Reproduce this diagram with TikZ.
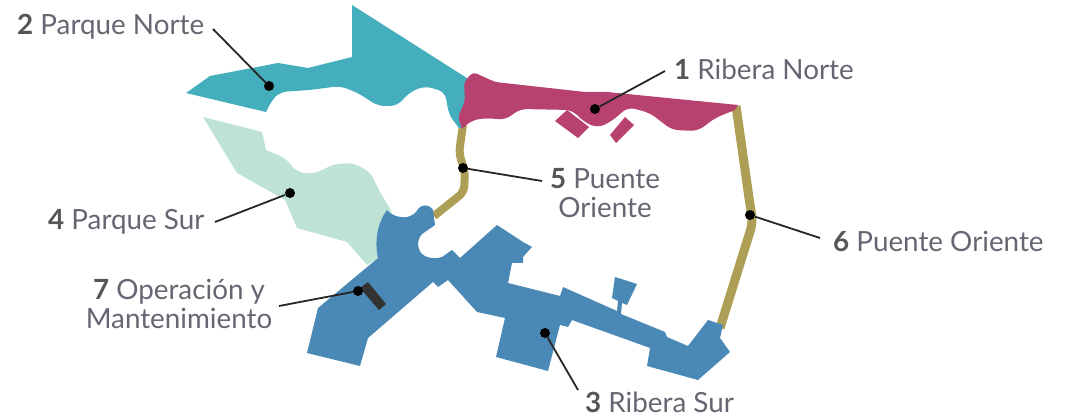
\documentclass[tikz,border=0pt]{standalone}
\usepackage{fontspec}
\setmainfont{Lato}
\definecolor{cteal}{HTML}{45AEBC}
\definecolor{cpink}{HTML}{B8426F}
\definecolor{cgold}{HTML}{AD9F55}
\definecolor{cmint}{HTML}{BEE3D5}
\definecolor{cblue}{HTML}{4A89B6}
\definecolor{cdark}{HTML}{333333}
\definecolor{ctext}{HTML}{666672}
\definecolor{cnum}{HTML}{55555A}
\newcommand{\nm}[1]{{\bfseries\color{cnum}#1}}
\tikzset{
  zone/.style={line width=0pt},
  bridge/.style={draw=cgold,line width=8pt,line join=round},
  dotmark/.style={circle,fill=black,inner sep=0pt,minimum size=10pt},
  leader/.style={draw=black!85,line width=1.8pt},
  lab/.style={text=ctext,font=\fontsize{27.8}{29}\selectfont,inner sep=0pt,align=center}
}
\begin{document}
\begin{tikzpicture}[x=1pt,y=-1pt]
\useasboundingbox (0,0) rectangle (1074,419);
% bridges
\draw[bridge,rounded corners=6pt] (463,125) -- (459,153) -- (465,172) -- (464,192) -- (434,216);
\draw[bridge,line width=9pt,rounded corners=8pt] (736,106) -- (750,205) -- (753,222) -- (720,328);
% mint
\fill[cmint,zone,rounded corners=5pt] (203,117) [sharp corners] -- (262,132) -- (266,150) [rounded corners=6pt] -- (285,158) -- (297,172) -- (313,174) -- (335,164) -- (353,163) -- (370,172) -- (380,192) -- (392,212) -- (395,240) [sharp corners] -- (375,260) -- (367,265) -- (347,242) -- (297,228) -- (285,200) -- (237,173) -- cycle;
% teal
\fill[cteal,zone] (186,93) -- (210,76) -- (278,63) -- (308,68) -- (352,57) -- (352,5) -- (470,80) -- (468,110) -- (462,128) -- (459,128) [rounded corners=7pt] -- (449,115) -- (445,92) -- (425,86) -- (410,92) -- (397,106) -- (378,106) -- (358,93) -- (340,86) -- (310,90) -- (280,92) -- (272,100) [sharp corners] -- (266,112) -- cycle;
% pink
\fill[cpink,zone,rounded corners=4pt] (462,129) -- (458,117) -- (465,101) -- (464,82) -- (473,72) -- (495,82) -- (585,92) [sharp corners] -- (607,92) -- (738,105) -- (735,110) [rounded corners=7pt] -- (715,118) -- (698,131) -- (672,130) -- (650,113) -- (628,107) -- (612,121) -- (598,128) -- (584,122) -- (572,110) -- (520,109) -- (505,120) -- (488,118) -- (472,120) [sharp corners] -- cycle;
\fill[cpink,zone] (555,121) -- (567,110) -- (589,127) -- (578,138) -- cycle;
\fill[cpink,zone] (610,135) -- (625,117) -- (634,125) -- (616,143) -- cycle;
% blue
\fill[cblue,zone] (387,210) .. controls (392,216) and (400,218) .. (407,217) .. controls (412,216) and (416,213) .. (418,209) .. controls (421,204) and (430,204) .. (433,210)
 -- (435,225) -- (425,232) .. controls (417,236) and (416,248) .. (422,254) .. controls (428,259) and (437,259) .. (442,257)
 -- (452,250) -- (460,258) -- (497,225) -- (523,242) -- (532,247) -- (523,257) -- (523,263) -- (512,263) -- (508,283) -- (560,296) -- (563,287) -- (617,311) -- (618,301) -- (612,298) -- (615,277) -- (637,284) -- (627,305) -- (622,303) -- (621,314) -- (665,332) -- (667,337) -- (688,346) -- (708,320) -- (723,325) -- (720,338) -- (730,352) -- (698,380) -- (647,366) -- (650,348) -- (572,320) -- (568,327) -- (560,325) -- (548,371) -- (496,357) -- (505,318) -- (477,312) -- (448,280) -- (438,287) -- (433,282) -- (368,338) -- (360,366) -- (307,353) -- (318,308) -- (378,258) .. controls (374,240) and (378,222) .. (387,210) -- cycle;
% operation block
\fill[cdark,zone] (360,288) -- (368,282) -- (386,304) -- (379,310) -- cycle;
% dots
\node[dotmark] (d2) at (269,86) {};
\node[dotmark] (d1) at (595,109) {};
\node[dotmark] (d5) at (463,168) {};
\node[dotmark] (d6) at (750,215) {};
\node[dotmark] (d4) at (290,193) {};
\node[dotmark] (d7) at (358,291) {};
\node[dotmark] (d3) at (545,333) {};
% free ends
\coordinate (e2) at (213,29);
\coordinate (e1) at (665,71);
\coordinate (e5) at (542,181);
\coordinate (e6) at (820,238);
\coordinate (e4) at (215,222);
\coordinate (e7) at (279,306);
\coordinate (e3) at (578,390);
\draw[leader] (e2) -- (d2);
\draw[leader] (e1) -- (d1);
\draw[leader] (e5) -- (d5);
\draw[leader] (e6) -- (d6);
\draw[leader] (e4) -- (d4);
\draw[leader] (e7) -- (d7);
\draw[leader] (e3) -- (d3);
% labels
\node[lab,anchor=west] (l2) at (17,27) {\nm{2} Parque Norte};
\node[lab,anchor=west] (l1) at (674,69) {\nm{1} Ribera Norte};
\node[lab] (l5) at (605,193) {\nm{5} Puente\\Oriente};
\node[lab,anchor=west] (l6) at (833,241) {\nm{6} Puente Oriente};
\node[lab,anchor=west] (l4) at (48,222) {\nm{4} Parque Sur};
\node[lab] (l7) at (179,304) {\nm{7} Operación y\\Mantenimiento};
\node[lab,anchor=west] (l3) at (585,402) {\nm{3} Ribera Sur};
\end{tikzpicture}
\end{document}
